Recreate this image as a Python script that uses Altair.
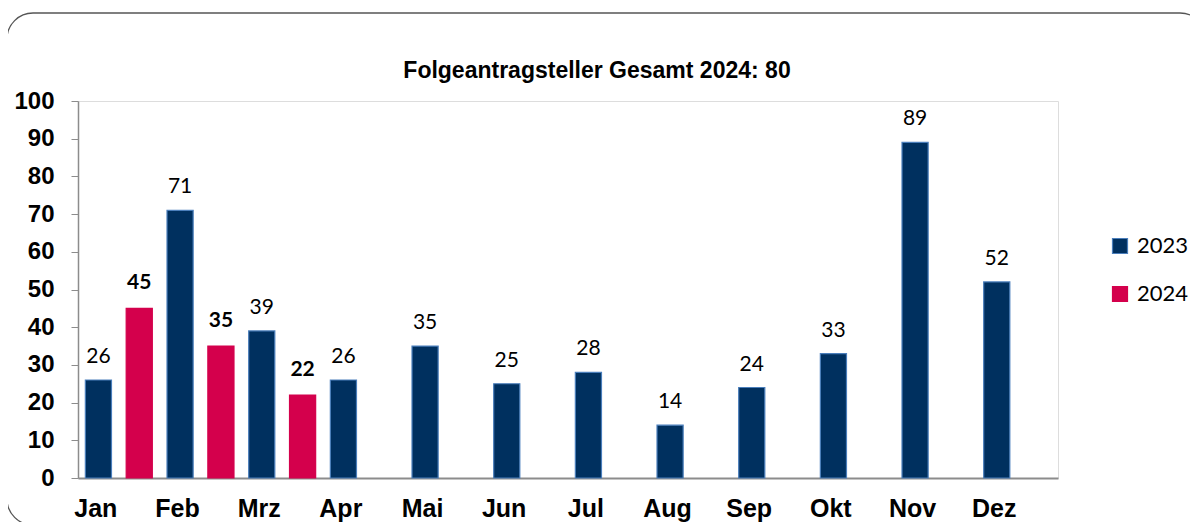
import altair as alt
import pandas as pd

months = ["Jan", "Feb", "Mrz", "Apr", "Mai", "Jun", "Jul", "Aug", "Sep", "Okt", "Nov", "Dez"]
values_2023 = [26, 71, 39, 26, 35, 25, 28, 14, 24, 33, 89, 52]
months_2024 = ["Jan", "Feb", "Mrz"]
values_2024 = [45, 35, 22]
years = ["2023", "2024"]
colors = ["#00305F", "#D4004C"]
strokes = ["#4A7EBB", "#D4004C"]
title_text = "Folgeantragsteller Gesamt 2024: 80"

rows = [{"Monat": m, "Jahr": "2023", "Wert": v} for m, v in zip(months, values_2023)]
rows += [{"Monat": m, "Jahr": "2024", "Wert": v} for m, v in zip(months_2024, values_2024)]
df = pd.DataFrame(rows)

x = alt.X("Monat:N", sort=months, scale=alt.Scale(paddingInner=0, paddingOuter=0),
          axis=alt.Axis(title=None, labelAngle=0, ticks=False, labelFont="Liberation Sans",
                        labelFontWeight="bold", labelFontSize=25, labelColor="#000",
                        labelPadding=18, labelOffset=-23, domainColor="#8c8c8c", domainWidth=2))
xo = alt.XOffset("Jahr:N", sort=years,
                 scale=alt.Scale(domain=years, paddingInner=0.36, paddingOuter=0.18))
y = alt.Y("Wert:Q", scale=alt.Scale(domain=[0, 100], nice=False),
          axis=alt.Axis(title=None, values=list(range(0, 101, 10)), grid=False,
                        labelFont="Liberation Sans", labelFontWeight="bold", labelFontSize=24,
                        labelColor="#000", labelPadding=17, tickSize=7, tickColor="#8c8c8c",
                        domainColor="#8c8c8c", domainWidth=1.5))

legend = alt.Legend(title=None, orient="none", legendX=1031, legendY=134,
                    symbolType="square", symbolSize=225,
                    labelFont="Lato", labelFontSize=22, labelColor="#000",
                    labelOffset=6, rowPadding=26, symbolStrokeWidth=1.2)

base = alt.Chart(df)

bars = base.mark_bar(strokeWidth=1.2).encode(
    x=x, xOffset=xo, y=y,
    color=alt.Color("Jahr:N", scale=alt.Scale(domain=years, range=colors), legend=legend),
    stroke=alt.Stroke("Jahr:N", scale=alt.Scale(domain=years, range=strokes), legend=legend),
)

labels_2023 = base.transform_filter(alt.datum.Jahr == "2023").mark_text(
    font="Lato", fontSize=21, color="#000", dy=-17, baseline="alphabetic"
).encode(x=x, xOffset=xo, y=y, text="Wert:Q")

labels_2024 = base.transform_filter(alt.datum.Jahr == "2024").mark_text(
    font="Lato", fontSize=21, fontWeight="bold", color="#000", dy=-19, baseline="alphabetic"
).encode(x=x, xOffset=xo, y=y, text="Wert:Q")

frame = alt.Chart(alt.Data(values=[{}])).mark_rect(
    fillOpacity=0, stroke="#555555", strokeWidth=1.3, cornerRadius=26, clip=False
).encode(x=alt.value(-71), x2=alt.value(1128), y=alt.value(-88), y2=alt.value(424))

chart = alt.layer(frame, bars, labels_2023, labels_2024).properties(
    width=980, height=377,
    title=alt.TitleParams(title_text, font="Liberation Sans", fontSize=23, fontWeight="bold",
                          color="#000", anchor="middle", dx=29, dy=88, offset=17),
    autosize=alt.AutoSizeParams(type="none"),
    padding={"left": 70, "top": 93, "right": 132, "bottom": 44},
).configure_view(fill="#EEF2FA", stroke=None).configure(background="white")

chart.save("out.html", embed_options={"renderer": "svg", "actions": False})
